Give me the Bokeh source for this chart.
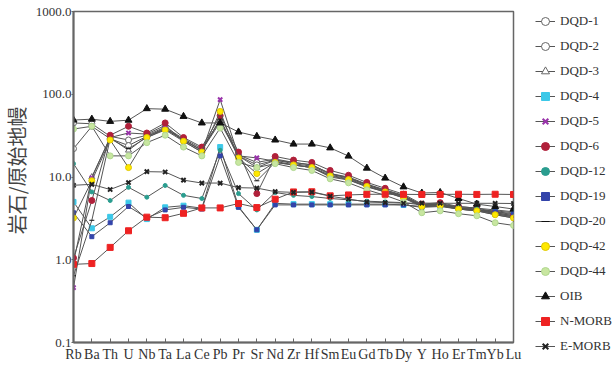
import math
from bokeh.plotting import figure
from bokeh.layouts import row
from bokeh.core.properties import value
from bokeh.models import Range1d, FixedTicker, CustomJSTickFormatter, Legend, LegendItem
from bokeh.embed import file_html
from bokeh.resources import INLINE

elements = ["Rb", "Ba", "Th", "U", "Nb", "Ta", "La", "Ce", "Pb", "Pr", "Sr", "Nd", "Zr",
            "Hf", "Sm", "Eu", "Gd", "Tb", "Dy", "Y", "Ho", "Er", "Tm", "Yb", "Lu"]

dqd_1 = [45, 44, 31, 28, 32, 40, 29, 22, 48, 18.5, 15, 16.5, 15, 14, 11, 10, 8.2, 7.0, 6.0, 4.6, 4.8, 4.3, 4.1, 3.7, 3.4]
dqd_2 = [22, 41, 29, 24, 31, 38, 28, 21, 46, 18, 14, 16, 14.5, 13.5, 10.8, 9.7, 8.0, 6.8, 5.8, 4.5, 4.7, 4.2, 4.0, 3.6, 3.3]
dqd_3 = [0.93, 10, 30, 21, 31, 39, 28, 21, 50, 18, 13, 16, 15, 14, 11, 9.8, 8.1, 6.9, 5.9, 4.6, 4.7, 4.2, 4.0, 3.7, 3.4]
dqd_4 = [5.0, 2.4, 3.3, 4.9, 3.1, 4.3, 4.5, 4.2, 23, 4.4, 2.3, 4.8, 4.7, 4.7, 4.7, 4.7, 4.7, 4.7, 4.6, 4.4, 4.5, 4.2, 4.0, 3.9, 3.7]
dqd_5 = [0.46, 9.8, 30, 34, 33, 42, 27, 20, 86, 18, 17, 15.5, 14, 13, 10, 9.2, 7.6, 6.6, 5.6, 4.4, 4.5, 4.1, 3.9, 3.5, 3.2]
dqd_6 = [1.05, 5.2, 32, 41, 34, 45, 30, 23, 55, 20, 6.3, 17.7, 16, 15, 12, 10.5, 8.6, 7.3, 6.2, 4.7, 4.9, 4.4, 4.2, 3.8, 3.5]
dqd_12 = [14.5, 6.6, 5.2, 7.5, 5.7, 7.9, 6.0, 5.5, 21, 6.3, 4.0, 6.5, 6.0, 5.8, 5.5, 5.3, 5.1, 5.0, 4.9, 4.6, 4.6, 4.4, 4.2, 4.0, 3.8]
dqd_19 = [3.7, 1.9, 2.8, 4.4, 3.2, 4.0, 4.3, 4.1, 18, 4.3, 2.3, 4.6, 4.6, 4.6, 4.6, 4.6, 4.6, 4.6, 4.6, 4.3, 4.4, 4.1, 3.9, 3.8, 3.6]
dqd_20 = [0.64, 3.0, 29, 22, 30, 38, 28, 21, 50, 17, 9, 15, 14, 13, 10.5, 9.5, 7.8, 6.7, 5.7, 4.5, 4.6, 4.2, 4.0, 3.6, 3.3]
dqd_42 = [3.2, 9.0, 28, 13, 30, 37, 27, 20, 62, 17, 11, 15, 14, 13, 10.3, 9.3, 7.7, 6.6, 5.6, 4.4, 4.5, 4.1, 3.9, 3.5, 3.2]
dqd_44 = [38, 41, 18, 18, 26, 32, 23, 18, 39, 15, 13, 14.5, 13, 12, 9.5, 8.5, 7.0, 6.0, 5.0, 3.7, 3.9, 3.6, 3.4, 2.8, 2.6]
oib = [48.8, 50, 47, 48.6, 67, 66, 54, 45, 45, 35, 31, 28, 25, 25, 22.5, 17.9, 12.8, 9.7, 7.6, 6.4, 6.5, 5.5, 4.7, 4.4, 4.1]
n_morb = [0.88, 0.90, 1.41, 2.24, 3.27, 3.22, 3.64, 4.23, 4.23, 4.78, 4.27, 5.39, 6.6, 6.63, 5.92, 6.07, 6.17, 6.2, 6.17, 6.15, 6.16, 6.19, 6.16, 6.19, 6.15]
e_morb = [7.94, 8.16, 7.06, 8.57, 11.6, 11.5, 9.17, 8.45, 8.45, 7.43, 7.35, 6.65, 6.52, 6.57, 5.86, 5.42, 4.98, 4.91, 4.82, 4.84, 4.82, 4.81, 4.81, 4.81, 4.78]

y_ticks = [0.1, 1, 10, 100, 1000]
y_title = "岩石/原始地幔"

series = [
    ("DQD-1", dqd_1, dict(marker="circle", size=6, fill_color="white", line_color="#666666")),
    ("DQD-2", dqd_2, dict(marker="circle", size=6, fill_color="white", line_color="#666666")),
    ("DQD-3", dqd_3, dict(marker="triangle", size=6, fill_color="white", line_color="#666666")),
    ("DQD-4", dqd_4, dict(marker="square", size=5, fill_color="#3cc8e8", line_color="#3cc8e8")),
    ("DQD-5", dqd_5, dict(marker="x", size=6, fill_color="#9933aa", line_color="#9933aa", line_width=2)),
    ("DQD-6", dqd_6, dict(marker="circle", size=6, fill_color="#b0203a", line_color="#b0203a")),
    ("DQD-12", dqd_12, dict(marker="circle", size=4, fill_color="#2a9d8f", line_color="#2a9d8f")),
    ("DQD-19", dqd_19, dict(marker="square", size=4, fill_color="#3344aa", line_color="#3344aa")),
    ("DQD-20", dqd_20, dict(marker="dash", size=5, fill_color="#111111", line_color="#111111")),
    ("DQD-42", dqd_42, dict(marker="circle", size=6, fill_color="#ffe800", line_color="#e0c800")),
    ("DQD-44", dqd_44, dict(marker="circle", size=6, fill_color="#c8e6a0", line_color="#b0d890")),
    ("OIB", oib, dict(marker="triangle", size=7, fill_color="#111111", line_color="#111111")),
    ("N-MORB", n_morb, dict(marker="square", size=6, fill_color="#ee2222", line_color="#ee2222")),
    ("E-MORB", e_morb, dict(marker="x", size=6, fill_color="#222222", line_color="#222222", line_width=2)),
]

def blank(w):
    f = figure(width=w, height=369, output_backend="svg", toolbar_location=None,
               x_axis_location=None, y_axis_location=None,
               x_range=Range1d(0, 1), y_range=Range1d(0, 1),
               min_border_left=0, min_border_right=0, min_border_top=0, min_border_bottom=0)
    f.grid.visible = False
    f.outline_line_color = None
    f.background_fill_color = "white"
    f.border_fill_color = "white"
    return f

# y-axis title figure
t = blank(32)
t.text(x=[0.5], y=[0.52], text=[y_title], angle=math.pi / 2,
       text_align="center", text_baseline="middle",
       text_font=value("Noto Sans CJK SC"), text_font_size="20px", text_color="#444444")

# main chart
p = figure(width=503, height=369, output_backend="svg", toolbar_location=None,
           y_axis_type="log", x_range=Range1d(0, len(elements) - 1),
           y_range=Range1d(0.1, 1000),
           min_border_left=38, min_border_top=11, min_border_right=22, min_border_bottom=27)
p.grid.visible = False
p.outline_line_color = "#666666"
p.outline_line_width = 1.5
p.background_fill_color = "white"
p.border_fill_color = "white"

# legend figure
q = blank(79)

xs = list(range(len(elements)))
legend_items = []
for name, vals, st in series:
    p.line(xs, vals, line_color="#555555", line_width=1)
    p.scatter(xs, vals, **st)
    lr = q.line([5, 6], [5, 6], line_color="#555555", line_width=1)
    sr = q.scatter([5], [5], **st)
    legend_items.append(LegendItem(label=name, renderers=[lr, sr]))

p.xaxis.ticker = FixedTicker(ticks=xs, minor_ticks=[])
p.xaxis.major_label_overrides = {i: e for i, e in enumerate(elements)}
p.xaxis.major_tick_in = 4
p.xaxis.major_tick_out = 0
p.xaxis.major_label_standoff = 4
p.xaxis.major_label_text_font_size = "14px"
p.yaxis.ticker = FixedTicker(ticks=y_ticks, minor_ticks=[])
p.yaxis.formatter = CustomJSTickFormatter(code="return tick >= 1 ? tick.toFixed(1) : tick.toString();")
p.yaxis.major_tick_in = 0
p.yaxis.major_tick_out = 2
p.yaxis.major_label_standoff = 0
p.yaxis.major_label_text_font_size = "13px"
for ax in (p.xaxis[0], p.yaxis[0]):
    ax.axis_line_color = "#666666"
    ax.axis_line_width = 2
    ax.major_tick_line_color = "#666666"
    ax.minor_tick_line_color = None
    ax.major_label_text_font = "Liberation Serif"
    ax.major_label_text_color = "#333333"

legend = Legend(items=legend_items, location="top_left", orientation="vertical",
                glyph_width=20, glyph_height=20, label_height=20, spacing=5,
                label_standoff=5, padding=0, margin=0,
                border_line_color=None, background_fill_alpha=0,
                label_text_font="Liberation Serif", label_text_font_size="13px",
                label_text_color="#333333")
q.add_layout(legend, "left")

layout = row(t, p, q, spacing=0)
open("out.html", "w").write(file_html(layout, INLINE))
